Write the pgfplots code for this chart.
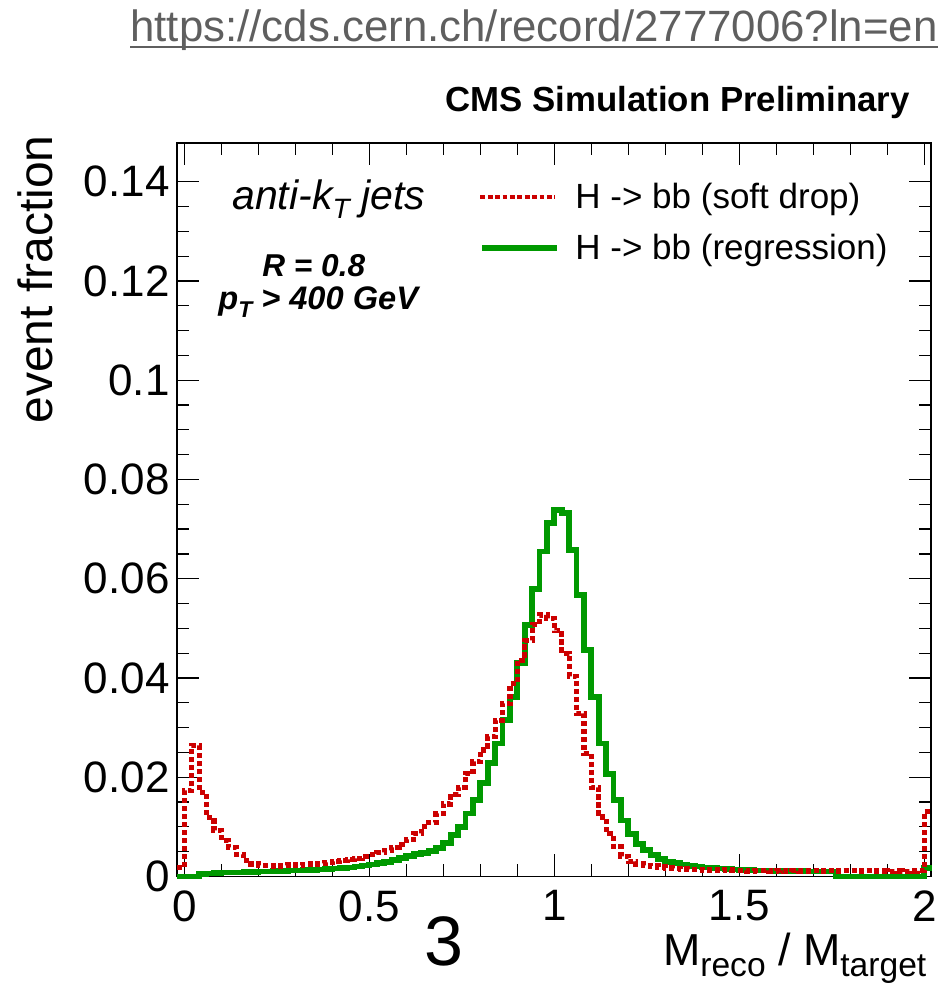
\documentclass[border=0pt]{standalone}
\usepackage{fontspec}
\setmainfont{Liberation Sans}
\usepackage{pgfplots}
\usepackage{pgfplotstable}
\pgfplotsset{compat=1.18}
\definecolor{rootred}{RGB}{204,0,0}
\definecolor{rootgreen}{RGB}{0,153,0}
\definecolor{urlgray}{RGB}{95,95,95}

% bin left edges, width 0.02, last row closes the final bin
\pgfplotstableread{
x y
-0.02 0.0018
0.00 0.0173
0.02 0.0264
0.04 0.0170
0.06 0.0119
0.08 0.0092
0.10 0.0072
0.12 0.0059
0.14 0.0045
0.16 0.0032
0.18 0.0025
0.20 0.0022
0.22 0.0022
0.24 0.0021
0.26 0.0022
0.28 0.0023
0.30 0.0022
0.32 0.0024
0.34 0.0025
0.36 0.0026
0.38 0.0028
0.40 0.0031
0.42 0.0033
0.44 0.0035
0.46 0.0037
0.48 0.0041
0.50 0.0044
0.52 0.0048
0.54 0.0052
0.56 0.0058
0.58 0.0065
0.60 0.0074
0.62 0.0086
0.64 0.0100
0.66 0.0109
0.68 0.0127
0.70 0.0146
0.72 0.0166
0.74 0.0180
0.76 0.0207
0.78 0.0231
0.80 0.0255
0.82 0.0282
0.84 0.0315
0.86 0.0349
0.88 0.0389
0.90 0.0436
0.92 0.0475
0.94 0.0508
0.96 0.0527
0.98 0.0520
1.00 0.0495
1.02 0.0450
1.04 0.0403
1.06 0.0329
1.08 0.0248
1.10 0.0180
1.12 0.0120
1.14 0.0086
1.16 0.0060
1.18 0.0040
1.20 0.0030
1.22 0.0025
1.24 0.0022
1.26 0.0021
1.28 0.0019
1.30 0.0017
1.32 0.0016
1.34 0.0015
1.36 0.0014
1.38 0.0014
1.40 0.0013
1.42 0.0013
1.44 0.0012
1.46 0.0013
1.48 0.0012
1.50 0.0012
1.52 0.0011
1.54 0.0012
1.56 0.0012
1.58 0.0011
1.60 0.0012
1.62 0.0011
1.64 0.0012
1.66 0.0011
1.68 0.0011
1.70 0.0012
1.72 0.0011
1.74 0.0012
1.76 0.0011
1.78 0.0012
1.80 0.0012
1.82 0.0011
1.84 0.0012
1.86 0.0011
1.88 0.0011
1.90 0.0010
1.92 0.0011
1.94 0.0010
1.96 0.0011
1.98 0.0012
2.00 0.0131
2.02 0.0131
}\softdrop

\pgfplotstableread{
x y
-0.02 0.0000
0.00 0.0000
0.02 0.0000
0.04 0.0005
0.06 0.0006
0.08 0.0007
0.10 0.0008
0.12 0.0008
0.14 0.0008
0.16 0.0009
0.18 0.0009
0.20 0.0010
0.22 0.0010
0.24 0.0011
0.26 0.0011
0.28 0.0012
0.30 0.0012
0.32 0.0013
0.34 0.0013
0.36 0.0014
0.38 0.0015
0.40 0.0016
0.42 0.0017
0.44 0.0018
0.46 0.0020
0.48 0.0022
0.50 0.0024
0.52 0.0027
0.54 0.0030
0.56 0.0033
0.58 0.0037
0.60 0.0041
0.62 0.0045
0.64 0.0048
0.66 0.0052
0.68 0.0058
0.70 0.0068
0.72 0.0083
0.74 0.0100
0.76 0.0127
0.78 0.0154
0.80 0.0188
0.82 0.0228
0.84 0.0268
0.86 0.0315
0.88 0.0362
0.90 0.0430
0.92 0.0506
0.94 0.0580
0.96 0.0655
0.98 0.0712
1.00 0.0739
1.02 0.0732
1.04 0.0658
1.06 0.0567
1.08 0.0457
1.10 0.0362
1.12 0.0268
1.14 0.0207
1.16 0.0154
1.18 0.0113
1.20 0.0086
1.22 0.0066
1.24 0.0053
1.26 0.0043
1.28 0.0036
1.30 0.0030
1.32 0.0027
1.34 0.0024
1.36 0.0021
1.38 0.0020
1.40 0.0018
1.42 0.0017
1.44 0.0016
1.46 0.0015
1.48 0.0014
1.50 0.0013
1.52 0.0013
1.54 0.0012
1.56 0.0012
1.58 0.0012
1.60 0.0011
1.62 0.0011
1.64 0.0011
1.66 0.0011
1.68 0.0010
1.70 0.0010
1.72 0.0010
1.74 0.0010
1.76 0.0000
1.78 0.0000
1.80 0.0000
1.82 0.0000
1.84 0.0000
1.86 0.0000
1.88 0.0000
1.90 0.0000
1.92 0.0000
1.94 0.0000
1.96 0.0000
1.98 0.0000
2.00 0.0017
2.02 0.0017
}\regression

\begin{document}
\begin{tikzpicture}
\useasboundingbox (-88.5pt,-55.75pt) rectangle (382pt,438.25pt);
\begin{axis}[
  at={(0pt,0pt)}, anchor=south west,
  scale only axis, width=377pt, height=366.75pt,
  xmin=-0.02, xmax=2.018, ymin=0, ymax=0.1478,
  xtick={0,0.5,1,1.5,2}, xticklabels={0,0.5,1,1.5,2},
  minor x tick num=4,
  ytick={0,0.02,0.04,0.06,0.08,0.1,0.12,0.14},
  yticklabels={0,0.02,0.04,0.06,0.08,0.1,0.12,0.14},
  minor y tick num=3,
  scaled y ticks=false, scaled x ticks=false,
  major tick length=11pt, minor tick length=6pt,
  tick style={line width=0.6pt, black},
  axis line style={line width=0.75pt},
  ticklabel style={font=\fontsize{22}{22}\selectfont, inner sep=0pt},
  xticklabel style={yshift=-6.75pt},
  yticklabel style={xshift=-3.5pt},
  /pgf/number format/assume math mode=true,
  clip=false,
]
\addplot[const plot, draw=rootgreen, line width=2.9pt, line join=miter] table {\regression};
\addplot[const plot, draw=rootred, line width=2.6pt, dash pattern=on 2.6pt off 1.4pt] table {\softdrop};
% legend samples
\addplot[draw=rootred, line width=2.4pt, dash pattern=on 2.4pt off 1.3pt] coordinates {(0.80,0.1369) (1.003,0.1369)};
\addplot[draw=rootgreen, line width=2.9pt] coordinates {(0.805,0.1266) (1.008,0.1266)};
\end{axis}

\node[name=url, anchor=base east, inner sep=0pt, text=urlgray, font=\fontsize{21.9}{22}\selectfont] at (380.5pt,417.25pt) {https://cds.cern.ch/record/2777006?ln=en};
\draw[urlgray, line width=1pt] ([yshift=-2.6pt]url.base west) -- ([yshift=-2.6pt]url.base east);
\node[anchor=base east, inner sep=0pt, font=\bfseries\fontsize{17.4}{18}\selectfont] at (366.5pt,382.25pt) {CMS Simulation Preliminary};
\node[rotate=90, anchor=base east, inner sep=0pt, font=\fontsize{24}{24}\selectfont] at (-62pt,370.75pt) {event fraction};
\node[anchor=base east, inner sep=0pt, font=\fontsize{22.4}{23}\selectfont] at (374.85pt,-44.25pt) {M\raisebox{-5.8pt}{\fontsize{16.8}{17}\selectfont reco} / M\raisebox{-5.8pt}{\fontsize{16.8}{17}\selectfont target}};
\node[anchor=base, inner sep=0pt, font=\fontsize{35}{35}\selectfont] at (133.5pt,-44.25pt) {3};

\node[anchor=base west, inner sep=0pt, font=\fontsize{17.5}{18}\selectfont] at (199pt,333.75pt) {H -> bb (soft drop)};
\node[anchor=base west, inner sep=0pt, font=\fontsize{17.5}{18}\selectfont] at (199pt,308.25pt) {H -> bb (regression)};

\node[anchor=base west, inner sep=0pt, font=\itshape\fontsize{20.5}{21}\selectfont] at (27.5pt,333.25pt) {anti-k\raisebox{-4.5pt}{\fontsize{14}{14}\selectfont T} jets};
\node[anchor=base west, inner sep=0pt, font=\bfseries\itshape\fontsize{15.8}{16}\selectfont] at (42.5pt,299.75pt) {R = 0.8};
\node[anchor=base west, inner sep=0pt, font=\bfseries\itshape\fontsize{16.3}{16}\selectfont] at (20.5pt,283.25pt) {p\raisebox{-4pt}{\fontsize{11.4}{11}\selectfont T} > 400 GeV};
\end{tikzpicture}
\end{document}
